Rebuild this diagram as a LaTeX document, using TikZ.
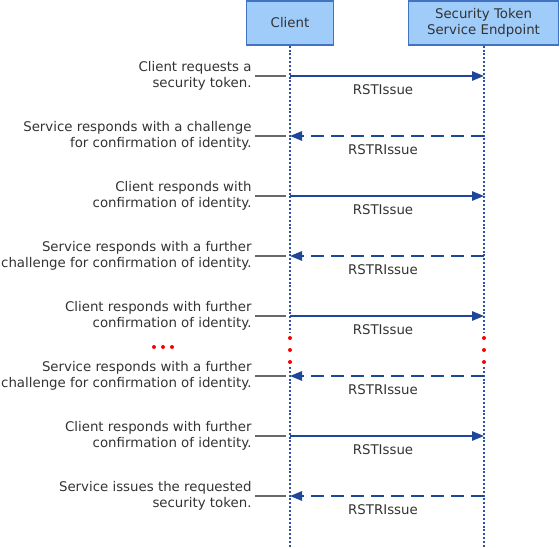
\documentclass[tikz,border=0pt]{standalone}
\usepackage{fontspec}
\setmainfont{DejaVu Sans}
\usetikzlibrary{arrows.meta}

\definecolor{boxfill}{RGB}{160,204,250}
\definecolor{boxline}{RGB}{66,114,196}
\definecolor{msgblue}{RGB}{31,71,153}
\definecolor{lifeblue}{RGB}{48,82,165}
\definecolor{txtgray}{RGB}{51,51,51}
\definecolor{tickgray}{RGB}{105,105,105}

\tikzset{every picture/.style={line width=0.75pt}}
\tikzset{
	party/.style={draw=boxline, fill=boxfill, line width=1pt, minimum width=65.25pt, minimum height=33pt, align=center, text=txtgray, font=\fontsize{10}{12}\selectfont},
	party wide/.style={party, minimum width=112.5pt},
	note/.style={anchor=east, align=right, inner sep=0.75pt, text=txtgray, font=\fontsize{10}{12}\selectfont},
	msglabel/.style={inner sep=0.75pt, text=txtgray, font=\fontsize{10}{12}\selectfont},
	lifeline/.style={draw=lifeblue, line width=1.7pt, dash pattern=on 1.5pt off 1.4pt},
	request/.style={draw=msgblue, line width=1.4pt, -{Triangle[length=9pt,width=7pt]}},
	reply/.style={request, dash pattern=on 10pt off 5pt},
	tick/.style={draw=tickgray, line width=0.9pt},
	gapdot/.style={circle, fill=red, inner sep=0pt, minimum size=3pt},
}

\begin{document}
\begin{tikzpicture}[x=0.75pt,y=0.75pt,yscale=-1,xscale=1]
		\useasboundingbox (0,0) rectangle (560,548);
		
		%Parties
		\node [party] (client) at (290,23) {Client};
		\node [party wide] (sts) at (483.5,23) {Security Token\\Service Endpoint};
		
		%Lifelines, broken by the gap
		\coordinate (cgap1) at (290,333);
		\coordinate (cgap2) at (290,367);
		\coordinate (cend) at (290,548);
		\coordinate (sgap1) at (484,333);
		\coordinate (sgap2) at (484,367);
		\coordinate (send) at (484,548);
		\draw [lifeline] (client.south) -- (cgap1);
		\draw [lifeline] (cgap2) -- (cend);
		\draw [lifeline] (sts.south -| sgap1) -- (sgap1);
		\draw [lifeline] (sgap2) -- (send);
		
		%Gap dots
		\node [gapdot] (cdot1) at (290,338) {};
		\node [gapdot] (cdot2) at (290,350) {};
		\node [gapdot] (cdot3) at (290,362) {};
		\node [gapdot] (sdot1) at (484,338) {};
		\node [gapdot] (sdot2) at (484,350) {};
		\node [gapdot] (sdot3) at (484,362) {};
		\node [gapdot] (ldot1) at (154,347) {};
		\node [gapdot] (ldot2) at (163,347) {};
		\node [gapdot] (ldot3) at (172,347) {};
		
		%Message end points
		\coordinate (c1) at (290,76);  \coordinate (s1) at (484,76);
		\coordinate (c2) at (290,136); \coordinate (s2) at (484,136);
		\coordinate (c3) at (290,196); \coordinate (s3) at (484,196);
		\coordinate (c4) at (290,256); \coordinate (s4) at (484,256);
		\coordinate (c5) at (290,316); \coordinate (s5) at (484,316);
		\coordinate (c6) at (290,376); \coordinate (s6) at (484,376);
		\coordinate (c7) at (290,436); \coordinate (s7) at (484,436);
		\coordinate (c8) at (290,496); \coordinate (s8) at (484,496);
		
		%Messages
		\draw [request] (c1) -- (s1);
		\draw [reply] (s2) -- (c2);
		\draw [request] (c3) -- (s3);
		\draw [reply] (s4) -- (c4);
		\draw [request] (c5) -- (s5);
		\draw [reply] (s6) -- (c6);
		\draw [request] (c7) -- (s7);
		\draw [reply] (s8) -- (c8);
		
		\node [msglabel] (msg1) at (383,90) {RSTIssue};
		\node [msglabel] (msg2) at (383,150) {RSTRIssue};
		\node [msglabel] (msg3) at (383,210) {RSTIssue};
		\node [msglabel] (msg4) at (383,270) {RSTRIssue};
		\node [msglabel] (msg5) at (383,330) {RSTIssue};
		\node [msglabel] (msg6) at (383,390) {RSTRIssue};
		\node [msglabel] (msg7) at (383,450) {RSTIssue};
		\node [msglabel] (msg8) at (383,510) {RSTRIssue};
		
		%Notes
		\node [note] (note1) at (253,76) {Client requests a\\security token.};
		\node [note] (note2) at (253,136) {Service responds with a challenge\\for confirmation of identity.};
		\node [note] (note3) at (253,196) {Client responds with\\confirmation of identity.};
		\node [note] (note4) at (253,256) {Service responds with a further\\challenge for confirmation of identity.};
		\node [note] (note5) at (253,316) {Client responds with further\\confirmation of identity.};
		\node [note] (note6) at (253,376) {Service responds with a further\\challenge for confirmation of identity.};
		\node [note] (note7) at (253,436) {Client responds with further\\confirmation of identity.};
		\node [note] (note8) at (253,496) {Service issues the requested\\security token.};
		
		\draw [tick] ([xshift=1.5pt]note1.east) -- ([xshift=-3pt]c1);
		\draw [tick] ([xshift=1.5pt]note2.east) -- ([xshift=-3pt]c2);
		\draw [tick] ([xshift=1.5pt]note3.east) -- ([xshift=-3pt]c3);
		\draw [tick] ([xshift=1.5pt]note4.east) -- ([xshift=-3pt]c4);
		\draw [tick] ([xshift=1.5pt]note5.east) -- ([xshift=-3pt]c5);
		\draw [tick] ([xshift=1.5pt]note6.east) -- ([xshift=-3pt]c6);
		\draw [tick] ([xshift=1.5pt]note7.east) -- ([xshift=-3pt]c7);
		\draw [tick] ([xshift=1.5pt]note8.east) -- ([xshift=-3pt]c8);
		
	\end{tikzpicture}
\end{document}
